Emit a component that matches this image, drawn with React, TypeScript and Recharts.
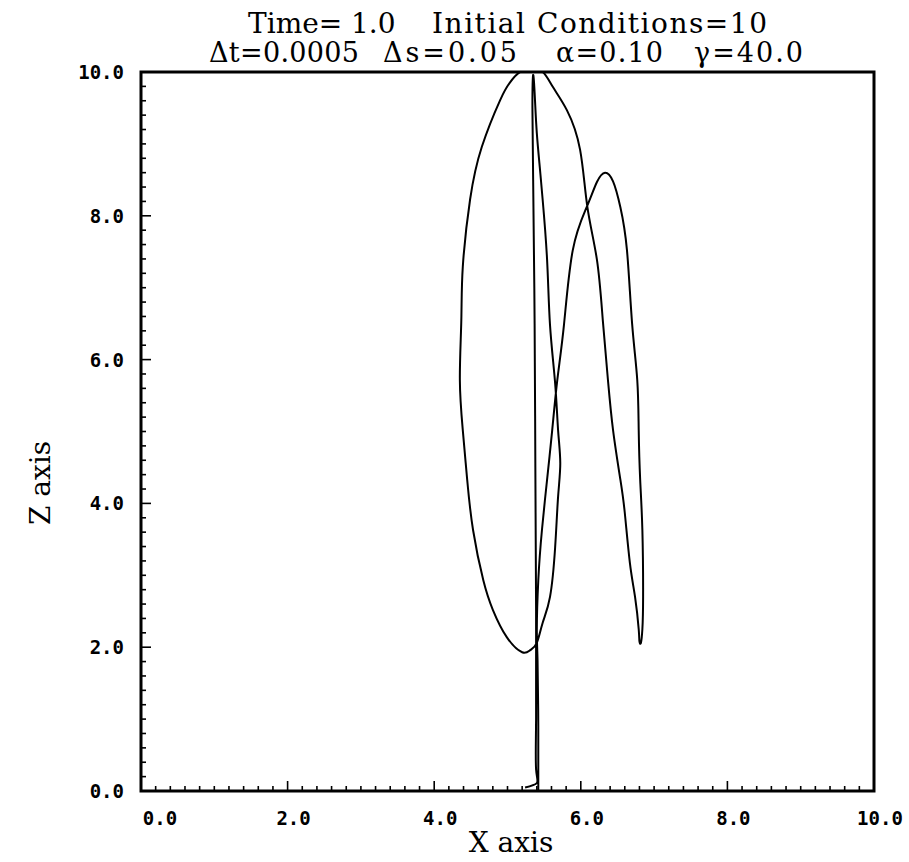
import { LineChart, Line, XAxis, YAxis, ReferenceArea } from 'recharts'

// filament path in (x, z) units, in drawing order
const stemUp: [number, number][] = [
  [5.42, 0.0], [5.42, 0.9], [5.41, 1.82], [5.40, 2.24], [5.42, 2.93], [5.47, 3.63],
  [5.54, 4.33], [5.61, 5.02], [5.68, 5.72], [5.77, 6.48], [5.89, 7.52],
  [6.08, 8.12], [6.22, 8.47], [6.33, 8.60],
]
const loopDown: [number, number][] = [
  [6.44, 8.48], [6.54, 8.12], [6.63, 7.52], [6.70, 6.50], [6.77, 5.72],
  [6.79, 5.02], [6.81, 4.33], [6.84, 3.63], [6.85, 2.70], [6.84, 2.25], [6.82, 2.06],
]
const ellipseRight: [number, number][] = [
  [6.80, 2.08], [6.79, 2.25], [6.74, 2.70], [6.67, 3.17], [6.60, 3.87], [6.54, 4.33],
  [6.44, 5.02], [6.37, 5.72], [6.30, 6.55], [6.22, 7.39], [6.09, 8.12], [5.99, 8.92],
  [5.81, 9.47], [5.62, 9.79], [5.48, 10.0],
]
const ellipseLeft: [number, number][] = [
  [5.33, 10.02], [5.17, 10.0], [5.03, 9.85], [4.90, 9.61], [4.65, 8.96], [4.49, 8.23],
  [4.39, 7.29], [4.37, 6.55], [4.35, 5.72], [4.39, 5.02], [4.45, 4.33], [4.53, 3.63],
  [4.67, 2.93], [4.80, 2.52], [4.99, 2.14], [5.20, 1.93], [5.31, 1.96], [5.40, 2.06],
]
const spikeUp: [number, number][] = [
  [5.48, 2.34], [5.58, 2.70], [5.65, 3.39], [5.69, 4.09], [5.72, 4.56], [5.69, 5.02],
  [5.65, 5.67], [5.58, 6.48], [5.54, 7.39], [5.48, 8.22], [5.44, 8.68],
  [5.40, 9.15], [5.375, 9.61], [5.35, 9.96],
]
const stemDown: [number, number][] = [
  [5.34, 9.5], [5.35, 8.5], [5.37, 6.5], [5.38, 4.5], [5.39, 2.5], [5.39, 1.0],
  [5.39, 0.3], [5.40, 0.11], [5.24, 0.05],
]

const xMajor = [0, 2, 4, 6, 8, 10]
const yMajor = [0, 2, 4, 6, 8, 10]

const titleLine1 = [
  { text: 'Time=', at: 248, width: 0 },
  { text: '1.0', at: 351, width: 0 },
  { text: 'Initial Conditions=10', at: 432, width: 335 },
]
const titleLine2 = [
  { text: 'Δt=0.0005', at: 209, width: 150 },
  { text: 'Δs=0.05', at: 383, width: 134 },
  { text: 'α=0.10', at: 556, width: 107 },
  { text: 'γ=40.0', at: 694, width: 109 },
]

const data = [...stemUp, ...loopDown, ...ellipseRight, ...ellipseLeft, ...spikeUp, ...stemDown].map(
  ([x, z]) => ({ x, z })
)

// minor ticks every 0.2
const minorTicks = Array.from({ length: 51 }, (_, i) => Math.round(i * 2) / 10)

const tickFont = { fontFamily: 'DejaVu Sans Mono', fontWeight: 700, fontSize: 19, fill: '#000' }
const serif = 'DejaVu Serif'

function XTick({ x, y, payload }: any) {
  const v = payload.value
  const major = xMajor.includes(v)
  return (
    <g>
      <line x1={x} x2={x} y1={y} y2={y - (major ? 10 : 5)} stroke="#000" strokeWidth={1.6} />
      {major && (
        <text x={x + (v === 0 ? 19 : 6)} y={y + 34} textAnchor="middle" {...tickFont}>
          {v.toFixed(1)}
        </text>
      )}
    </g>
  )
}

function YTick({ x, y, payload }: any) {
  const v = payload.value
  const major = yMajor.includes(v)
  return (
    <g>
      <line x1={x} x2={x + (major ? 10 : 5)} y1={y} y2={y} stroke="#000" strokeWidth={1.6} />
      {major && (
        <text x={x - 17} y={y + 7} textAnchor="end" {...tickFont}>
          {v.toFixed(1)}
        </text>
      )}
    </g>
  )
}

function TitleText({ t, y, size }: { t: { text: string; at: number; width: number }; y: number; size: number }) {
  const fit = t.width ? { textLength: t.width, lengthAdjust: 'spacing' } : {}
  return (
    <text x={t.at} y={y} fontFamily={serif} fontSize={size} fill="#000" {...fit}>
      {t.text}
    </text>
  )
}

export default function App() {
  return (
    <div style={{ position: 'absolute', left: 0, top: 0, width: 909, height: 862, background: '#fff' }}>
      <LineChart width={909} height={862} data={data} margin={{ top: 72, right: 35, bottom: 31, left: 81 }}>
        <XAxis
          type="number"
          dataKey="x"
          domain={[0, 10]}
          allowDataOverflow
          ticks={minorTicks}
          interval={0}
          height={40}
          axisLine={false}
          tickLine={false}
          tickSize={0}
          tickMargin={0}
          tick={(p: any) => <XTick {...p} />}
        />
        <YAxis
          type="number"
          domain={[0, 10]}
          allowDataOverflow
          ticks={minorTicks}
          interval={0}
          width={60}
          axisLine={false}
          tickLine={false}
          tickSize={0}
          tickMargin={0}
          tick={(p: any) => <YTick {...p} />}
        />
        <Line
          dataKey="z"
          type="natural"
          dot={false}
          stroke="#000"
          strokeWidth={2}
          isAnimationActive={false}
        />
        <ReferenceArea x1={0} x2={10} y1={0} y2={10} fill="none" stroke="#000" strokeWidth={3} ifOverflow="visible" />
      </LineChart>
      <svg width={909} height={862} style={{ position: 'absolute', left: 0, top: 0, pointerEvents: 'none' }}>
        {titleLine1.map((t) => (
          <TitleText key={t.text} t={t} y={33} size={28} />
        ))}
        {titleLine2.map((t) => (
          <TitleText key={t.text} t={t} y={62} size={27} />
        ))}
        <text x={511} y={852} textAnchor="middle" fontFamily={serif} fontSize={28} fill="#000">
          X axis
        </text>
        <text
          x={0}
          y={0}
          transform="translate(50 483) rotate(-90)"
          textAnchor="middle"
          fontFamily={serif}
          fontSize={28}
          fill="#000"
        >
          Z axis
        </text>
      </svg>
    </div>
  )
}
